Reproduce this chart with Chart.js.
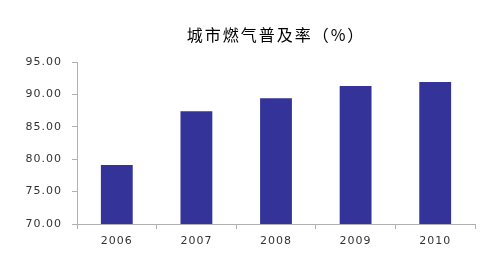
<!DOCTYPE html>
<html>
<head>
<meta charset="utf-8">
<script src="https://cdn.jsdelivr.net/npm/chart.js@4/dist/chart.umd.min.js"></script>
<style>
  html, body { margin: 0; padding: 0; background: #fff; }
  canvas { display: block; }
</style>
</head>
<body>
<canvas id="chart" width="485" height="257"></canvas>
<script>
const years = ['2006', '2007', '2008', '2009', '2010']
const gasRate = [79.1, 87.4, 89.4, 91.3, 91.9]
const yTicks = [70, 75, 80, 85, 90, 95]
const chartTitle = '城市燃气普及率（%）'

// title centred over the plot area, like the original
const titlePlugin = {
  id: 'plotTitle',
  beforeDraw(chart) {
    chart.ctx.letterSpacing = '1px'
  },
  afterDraw(chart) {
    const { ctx, chartArea } = chart
    ctx.save()
    ctx.letterSpacing = '2px'
    ctx.font = '16px "Noto Sans CJK SC"'
    ctx.fillStyle = '#000'
    ctx.textAlign = 'center'
    ctx.textBaseline = 'middle'
    ctx.fillText(chartTitle, (chartArea.left + chartArea.right) / 2, 35)
    ctx.restore()
  }
}

const ctx = document.getElementById('chart').getContext('2d')
new Chart(ctx, {
  type: 'bar',
  data: {
    labels: years,
    datasets: [{
      label: chartTitle,
      data: gasRate,
      backgroundColor: '#333399',
      borderWidth: 0,
      categoryPercentage: 1,
      barPercentage: 0.4
    }]
  },
  plugins: [titlePlugin],
  options: {
    responsive: false,
    animation: false,
    layout: { padding: { left: 0, right: 10, top: 62, bottom: 0 } },
    plugins: {
      legend: { display: false },
      tooltip: { enabled: false },
      title: { display: false }
    },
    scales: {
      y: {
        min: yTicks[0],
        max: yTicks[yTicks.length - 1],
        afterBuildTicks: (axis) => { axis.ticks = yTicks.map(v => ({ value: v })) },
        afterFit: (axis) => { axis.width = 77 },
        border: { display: true, color: '#b0b0b0', width: 1 },
        grid: { drawOnChartArea: false, drawTicks: true, tickLength: 5, color: '#b0b0b0' },
        ticks: {
          padding: 10,
          color: '#333',
          font: { family: '"DejaVu Sans"', size: 11 },
          callback: (v) => Number(v).toFixed(2)
        }
      },
      x: {
        afterFit: (axis) => { axis.height = 33 },
        border: { display: true, color: '#b0b0b0', width: 1 },
        grid: { drawOnChartArea: false, drawTicks: true, tickLength: 5, color: '#b0b0b0', offset: true },
        ticks: {
          padding: 6,
          color: '#333',
          font: { family: '"DejaVu Sans"', size: 11 }
        }
      }
    }
  }
})
</script>
</body>
</html>
